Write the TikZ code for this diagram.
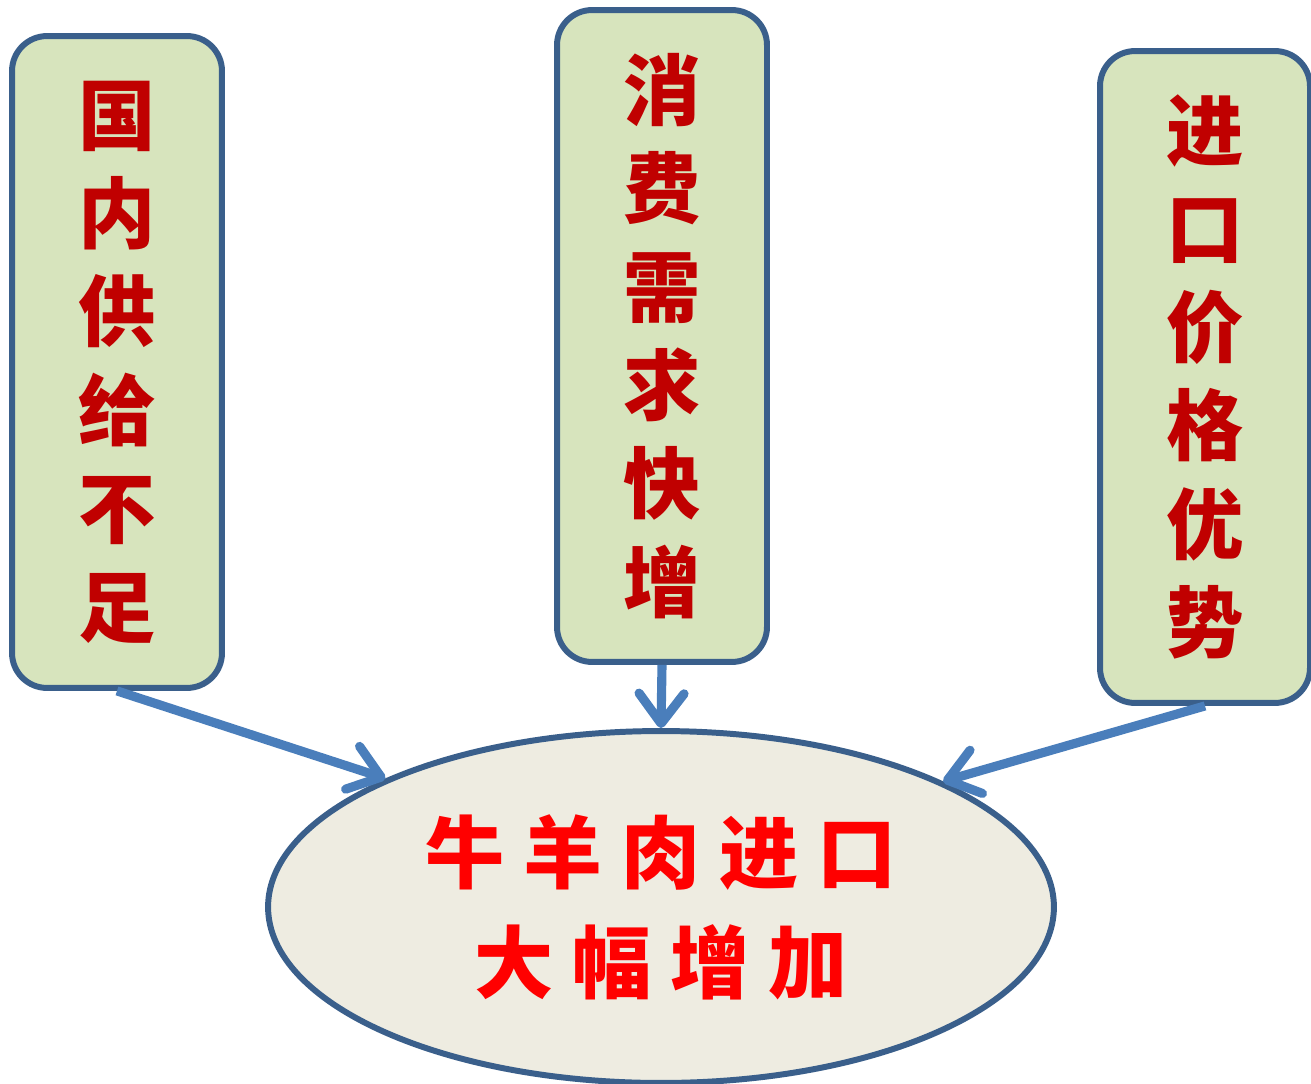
\documentclass[tikz,border=0pt]{standalone}
\usepackage{fontspec}
\newfontfamily\cjk{Noto Sans CJK SC}
\newfontfamily\cjkwide{Noto Sans CJK SC}[LetterSpace=24]
\usepackage{tikz}
\usetikzlibrary{shapes.geometric,arrows.meta}

\definecolor{boxfill}{HTML}{D7E4BD}
\definecolor{boxline}{HTML}{3A5F8B}
\definecolor{ovalfill}{HTML}{EEECE1}
\definecolor{arrowblue}{HTML}{4A7EBB}
\definecolor{darkred}{HTML}{C00000}

\tikzset{
  reason/.style={draw=boxline, fill=boxfill, line width=3.4pt, rounded corners=0.7cm,
    minimum width=4.2cm, minimum height=13.04cm, inner sep=0pt, align=center,
    text=darkred, font=\cjk\bfseries\fontsize{44}{56}\selectfont},
  result/.style={ellipse, draw=boxline, fill=ovalfill, line width=3.4pt,
    minimum width=15.72cm, minimum height=7.04cm, inner sep=0pt, align=center,
    text=red, font=\cjkwide\bfseries\fontsize{45}{62.6}\selectfont},
  cause/.style={draw=arrowblue, line width=5.2pt, -{Straight Barb[length=0.6cm, width=0.9cm, round]}}
}

\begin{document}
\begin{tikzpicture}[x=0.02cm, y=-0.02cm]
\useasboundingbox (0,0) rectangle (1311,1084);

\node[reason] (gongji) at (117,362) {国\\内\\供\\给\\不\\足};
\node[reason] (xuqiu) at (662,336) {消\\费\\需\\求\\快\\增};
\node[reason] (jiage) at (1205,377) {进\\口\\价\\格\\优\\势};

\node[result] (jinkou) at (661,907) {牛羊肉进口\\大幅增加};

\draw[cause] (gongji.south) -- (jinkou.155.7);
\draw[cause] (xuqiu.south) -- (jinkou.north);
\draw[cause] (jiage.south) -- (jinkou.24);

\end{tikzpicture}
\end{document}
